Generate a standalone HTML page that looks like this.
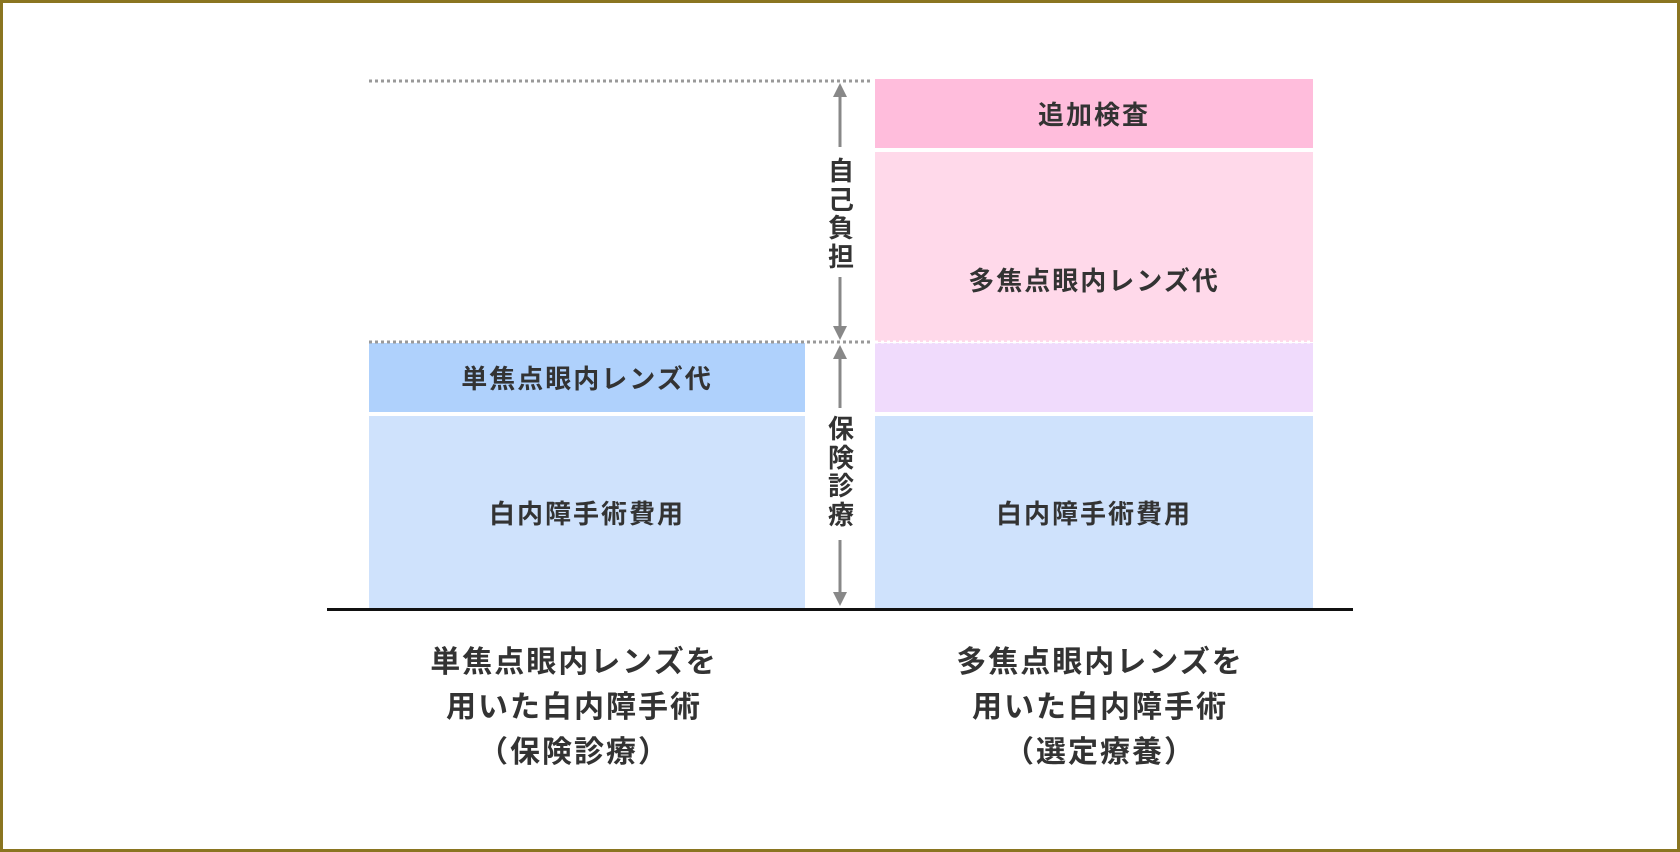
<!DOCTYPE html>
<html><head><meta charset="utf-8"><style>
html,body{margin:0;padding:0;}
body{width:1680px;height:852px;position:relative;background:#fff;overflow:hidden;font-family:"Liberation Sans","Noto Sans CJK JP",sans-serif;font-weight:bold;color:#333;}
.frame{position:absolute;left:0;top:0;width:1674px;height:846px;border:3px solid #8a7520;}
.b{position:absolute;display:flex;align-items:center;justify-content:center;font-size:26px;letter-spacing:2px;color:#333;}
.cap{position:absolute;top:640px;width:500px;text-align:center;font-size:30px;line-height:45px;letter-spacing:2px;color:#333;}
.v{position:absolute;left:824px;width:34px;text-align:center;font-size:26px;line-height:28.5px;color:#333;}
</style></head><body>
<div class="frame"></div>
<div class="b" style="left:875px;top:79px;width:438px;height:69px;background:#ffbddc;">追加検査</div>
<div class="b" style="left:875px;top:152px;width:438px;height:190px;background:#ffd9ea;padding-top:64px;box-sizing:border-box;">多焦点眼内レンズ代</div>
<div class="b" style="left:875px;top:343px;width:438px;height:69px;background:#f0dbfc;"></div>
<div class="b" style="left:875px;top:416px;width:438px;height:192px;background:#cfe2fc;">白内障手術費用</div>
<div class="b" style="left:369px;top:343px;width:436px;height:69px;background:#afd1fc;">単焦点眼内レンズ代</div>
<div class="b" style="left:369px;top:416px;width:436px;height:192px;background:#cfe2fc;">白内障手術費用</div>
<svg width="1680" height="852" style="position:absolute;left:0;top:0">
<line x1="369" y1="81" x2="872" y2="81" stroke="#999" stroke-width="3" stroke-dasharray="3 3"/>
<line x1="369" y1="342" x2="872" y2="342" stroke="#999" stroke-width="3" stroke-dasharray="3 3"/>
<line x1="875" y1="342" x2="1313" y2="342" stroke="#fff" stroke-width="3" stroke-dasharray="3 3"/>
<g stroke="#888" stroke-width="3" fill="#888">
<line x1="840" y1="92" x2="840" y2="147"/>
<line x1="840" y1="277" x2="840" y2="328"/>
<line x1="840" y1="356" x2="840" y2="408"/>
<line x1="840" y1="540" x2="840" y2="595"/>
</g>
<g fill="#888">
<polygon points="840,83 833,97 847,97"/>
<polygon points="840,340 833,326 847,326"/>
<polygon points="840,345 833,359 847,359"/>
<polygon points="840,606 833,592 847,592"/>
</g>
<rect x="327" y="608" width="1026" height="3" fill="#111"/>
</svg>
<div class="v" style="top:157px;">自<br>己<br>負<br>担</div>
<div class="v" style="top:415px;">保<br>険<br>診<br>療</div>
<div class="cap" style="left:324px;">単焦点眼内レンズを<br>用いた白内障手術<br>（保険診療）</div>
<div class="cap" style="left:850px;">多焦点眼内レンズを<br>用いた白内障手術<br>（選定療養）</div>
</body></html>
